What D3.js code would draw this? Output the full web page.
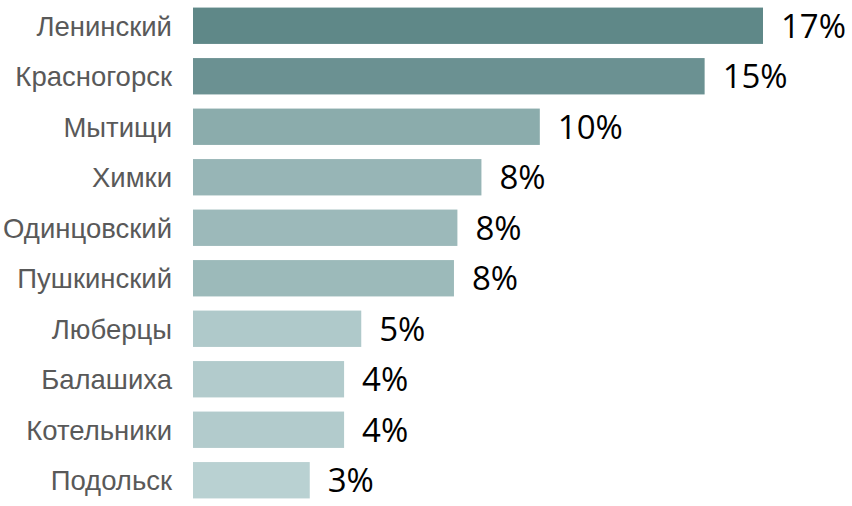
<!DOCTYPE html>
<head>
  <meta charset="utf-8">
  <script src="https://d3js.org/d3.v7.min.js"></script>
  <style>
    body { margin:0; background:white; }
    .catLabel {
      fill: #595959;
      font-family: 'Liberation Sans', Arial, sans-serif;
      font-size: 27.5px;
    }
    .valLabel {
      fill: black;
      font-family: 'Open Sans', sans-serif;
      font-size: 33px;
    }
  </style>
</head>
<body>
  <script>
    // districts and their shares (percent)
    const districts = ['Ленинский', 'Красногорск', 'Мытищи', 'Химки', 'Одинцовский',
                       'Пушкинский', 'Люберцы', 'Балашиха', 'Котельники', 'Подольск'];
    const shares = [16.6, 14.9, 10.1, 8.4, 7.7, 7.6, 4.9, 4.4, 4.4, 3.4];

    const data = districts.map((d, i) => ({ name: d, value: shares[i] }));

    const width = 852, height = 506;
    const left = 193;

    const svg = d3.select('body')
                  .append('svg')
                  .attr('width', width)
                  .attr('height', height);

    // x scale: 16.6% -> 570px
    const x = d3.scaleLinear()
                .domain([0, 16.6])
                .range([left, 763]);

    const y = d3.scaleBand()
                .domain(districts)
                .range([0, height])
                .paddingInner(0.28)
                .paddingOuter(0.15);

    // lighter for small values, darker teal for large ones
    const color = d3.scaleLinear()
                    .domain([d3.min(shares), d3.max(shares)])
                    .range(['#b9d1d2', '#5f8888']);

    svg.append('g')
      .selectAll('rect')
      .data(data)
      .enter()
      .append('rect')
      .attr('x', x(0))
      .attr('y', d => y(d.name))
      .attr('width', d => x(d.value) - x(0))
      .attr('height', y.bandwidth())
      .style('fill', d => color(d.value));

    // category labels
    svg.append('g')
      .selectAll('text')
      .data(data)
      .enter()
      .append('text')
      .classed('catLabel', true)
      .attr('x', left - 21)
      .attr('y', d => y(d.name) + y.bandwidth() / 2)
      .attr('dy', '0.36em')
      .attr('text-anchor', 'end')
      .text(d => d.name);

    // value labels
    svg.append('g')
      .selectAll('text')
      .data(data)
      .enter()
      .append('text')
      .classed('valLabel', true)
      .attr('x', d => x(d.value) + 18)
      .attr('y', d => y(d.name) + y.bandwidth() / 2)
      .attr('dy', '0.36em')
      .text(d => Math.round(d.value) + '%');
  </script>
</body>
